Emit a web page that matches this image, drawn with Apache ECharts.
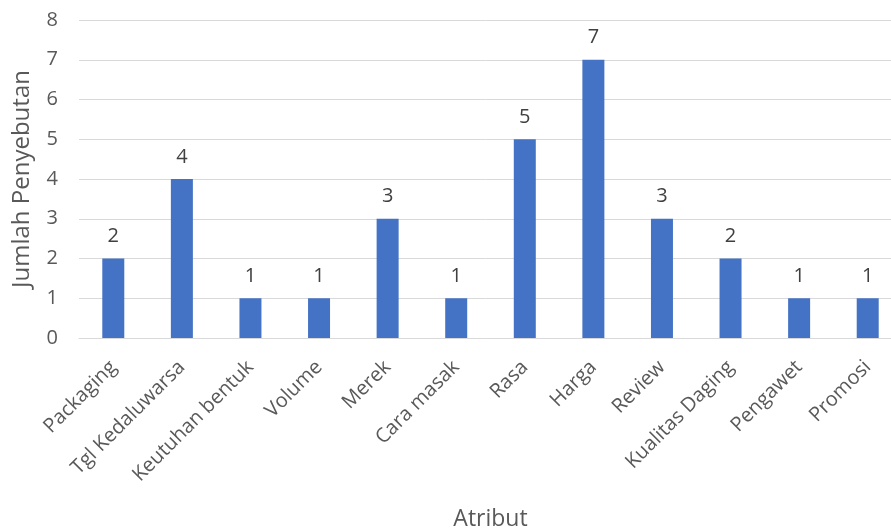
<!DOCTYPE html>
<html>
<head>
<meta charset="utf-8">
<script src="https://cdn.jsdelivr.net/npm/echarts@6/dist/echarts.min.js"></script>
<style>
html,body{margin:0;padding:0;background:#fff;}
#c{width:891px;height:528px;}
</style>
</head>
<body>
<div id="c"></div>
<script>
const categories = ["Packaging","Tgl Kedaluwarsa","Keutuhan bentuk","Volume","Merek","Cara masak","Rasa","Harga","Review","Kualitas Daging","Pengawet","Promosi"];
const values = [2,4,1,1,3,1,5,7,3,2,1,1];
const yTicks = [0,1,2,3,4,5,6,7,8];
const xTitle = "Atribut";
const yTitle = "Jumlah Penyebutan";

const FONT = "Open Sans";
const TXT = "#595959";
const chart = echarts.init(document.getElementById('c'), null, {renderer:'canvas'});
chart.setOption({
  animation:false,
  backgroundColor:'#fff',
  textStyle:{fontFamily:FONT},
  grid:{left:79, right:-11, top:20, bottom:190, containLabel:false, outerBoundsMode:'none'},
  xAxis:{
    type:'category',
    data:categories,
    name:xTitle,
    nameLocation:'middle',
    nameGap:170,
    nameTextStyle:{fontFamily:FONT,fontSize:23,color:TXT},
    axisLine:{show:true,lineStyle:{color:'#D9D9D9',width:1}},
    axisTick:{show:false},
    axisLabel:{rotate:45,interval:0,margin:26,fontFamily:FONT,fontSize:20,color:TXT}
  },
  yAxis:{
    type:'value',
    min:yTicks[0], max:yTicks[yTicks.length-1], interval:1,
    name:yTitle,
    nameLocation:'middle',
    nameGap:45,
    nameTextStyle:{fontFamily:FONT,fontSize:24,color:TXT},
    axisLine:{show:false},
    axisTick:{show:false},
    axisLabel:{margin:21,fontFamily:FONT,fontSize:20,color:TXT},
    splitLine:{lineStyle:{color:'#D9D9D9',width:1}}
  },
  series:[{
    type:'bar',
    data:values,
    barWidth:22,
    itemStyle:{color:'#4472C4'},
    label:{show:true,position:'top',distance:12,fontFamily:FONT,fontSize:20,color:'#404040'}
  }]
});
</script>
</body>
</html>
